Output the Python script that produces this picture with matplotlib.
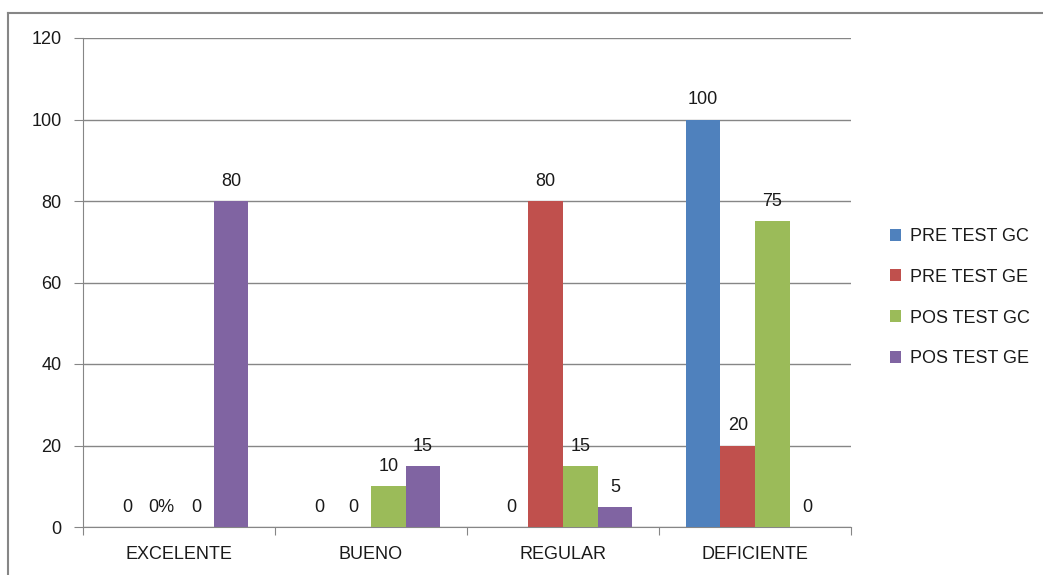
import numpy as np
import matplotlib.pyplot as plt
from matplotlib.lines import Line2D

categories = ['EXCELENTE', 'BUENO', 'REGULAR', 'DEFICIENTE']
series = ['PRE TEST GC', 'PRE TEST GE', 'POS TEST GC', 'POS TEST GE']
values = [
    [0, 0, 0, 100],
    [0, 0, 80, 20],
    [0, 10, 15, 75],
    [80, 15, 5, 0],
]
# labels as shown on the chart (one zero is shown as "0%")
labels = [
    ['0', '0', '0', '100'],
    ['0%', '0', '80', '20'],
    ['0', '10', '15', '75'],
    ['80', '15', '5', '0'],
]
colors = ['#4F81BD', '#C0504D', '#9BBB59', '#8064A2']
yticks = [0, 20, 40, 60, 80, 100, 120]

plt.rcParams['font.family'] = ['Liberation Sans', 'DejaVu Sans']
fs = 13
txt = '#1a1a1a'
fig = plt.figure(figsize=(10.43, 5.75), dpi=100)
ax = fig.add_axes([83 / 1043, 1 - 527 / 575, (851 - 83) / 1043, (527 - 38) / 575])

x = np.arange(len(categories))
w = 0.18
for i, (s, vals) in enumerate(zip(series, values)):
    pos = x + (i - 1.5) * w
    ax.bar(pos, vals, width=w, color=colors[i], label=s, zorder=3)
    for p, v, lab in zip(pos, vals, labels[i]):
        ax.annotate(lab, (p, v), xytext=(0, 8), textcoords='offset points',
                    ha='center', va='bottom', fontsize=fs, color=txt)

ax.set_xlim(-0.5, len(categories) - 0.5)
ax.set_ylim(0, 120)
ax.set_yticks(yticks)
ax.tick_params(axis='y', labelsize=fs, length=6.5, color='#868686', pad=9, labelcolor=txt)
ax.yaxis.grid(True, color='#868686', linewidth=1, zorder=0)

ax.set_xticks(np.arange(-0.5, len(categories), 1), minor=False)
ax.set_xticklabels([])
ax.set_xticks(x, minor=True)
ax.set_xticklabels(categories, minor=True)
ax.tick_params(axis='x', which='major', length=6, color='#868686', direction='out')
ax.tick_params(axis='x', which='minor', length=0, labelsize=fs, pad=14, labelcolor=txt)

for side in ['top', 'right']:
    ax.spines[side].set_visible(False)
for side in ['left', 'bottom']:
    ax.spines[side].set_color('#868686')

leg = ax.legend(loc='center left', bbox_to_anchor=(1.041, 0.469), frameon=False,
                fontsize=fs, handlelength=0.65, handleheight=0.65,
                labelspacing=1.32, handletextpad=0.5, borderaxespad=0)
for t in leg.get_texts():
    t.set_color(txt)

# outer chart border (partly cut off at right and bottom)
fig.add_artist(Line2D([8 / 1043, 1.0], [1 - 13 / 575] * 2, color='#868686', lw=1.5))
fig.add_artist(Line2D([8 / 1043] * 2, [0, 1 - 13 / 575], color='#868686', lw=1.5))

plt.savefig('out.png', dpi=100)
